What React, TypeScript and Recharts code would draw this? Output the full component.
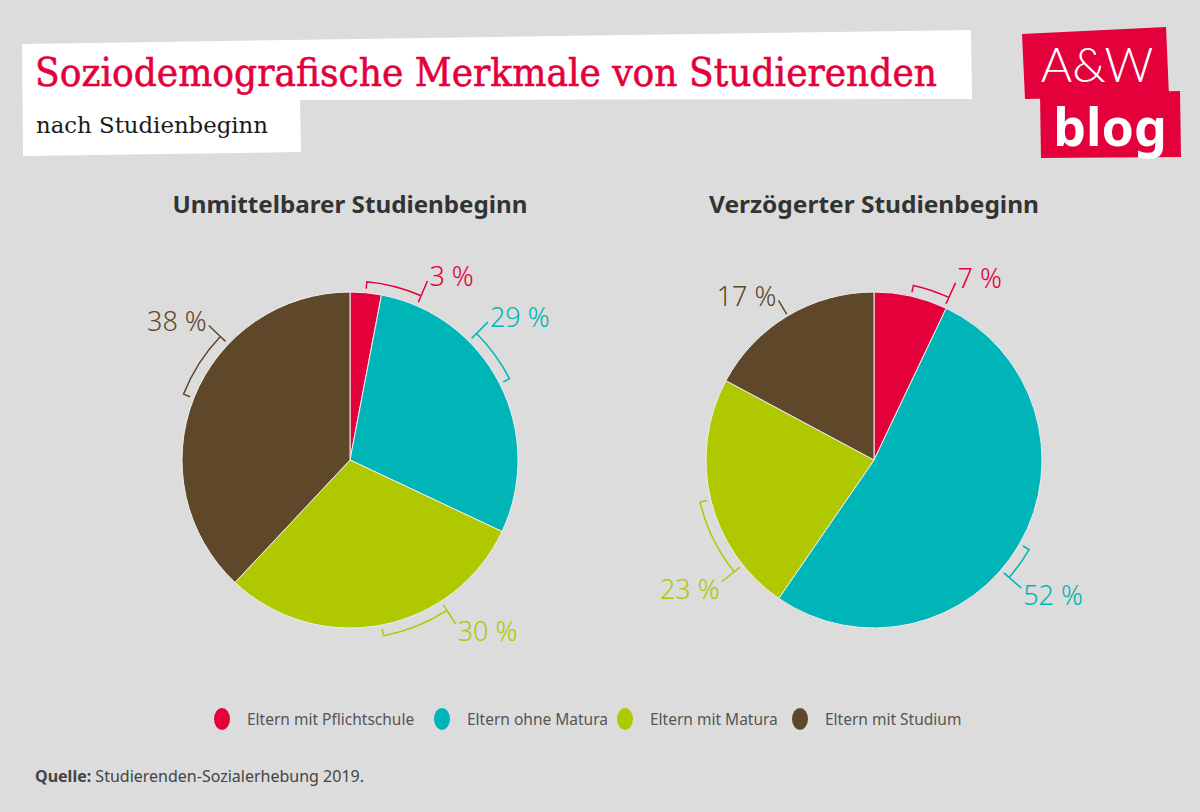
import { PieChart, Pie, Cell } from 'recharts';

const CATEGORIES = ['Eltern mit Pflichtschule', 'Eltern ohne Matura', 'Eltern mit Matura', 'Eltern mit Studium'];
const IMMEDIATE = [3, 29, 30, 38];
const DELAYED = [7, 52, 23, 17];
const CHART_TITLES = ['Unmittelbarer Studienbeginn', 'Verzögerter Studienbeginn'];

const COLORS = ['#e4003b', '#00b5b7', '#afc800', '#5f482a'];

// bracket direction from slice middle (1 = clockwise, -1 = counter, 0 = plain line) and its span in degrees
const BRACKETS_LEFT = [
  { dir: 1, span: 18 },
  { dir: -1, span: 18 },
  { dir: -1, span: 22 },
  { dir: 1, span: 22 },
];
const BRACKETS_RIGHT = [
  { dir: 1, span: 12 },
  { dir: 1, span: 11 },
  { dir: -1, span: 25 },
  { dir: 0, span: 0 },
];
const LEGEND_WIDTHS = [220, 183, 175, 180];

const immediateData = CATEGORIES.map((name, i) => ({ name, value: IMMEDIATE[i] }));
const delayedData = CATEGORIES.map((name, i) => ({ name, value: DELAYED[i] }));

const LABEL_FONT = '"Noto Sans", "DejaVu Sans", sans-serif';

const makeLabel = (cfg: { dir: number; span: number }[]) => (props: any) => {
  const { cx, cy, midAngle, outerRadius, index, value } = props;
  const color = COLORS[index];
  const { dir, span } = cfg[index];
  const pt = (deg: number, r: number) => {
    const t = (deg * Math.PI) / 180;
    return [cx + r * Math.sin(t), cy - r * Math.cos(t)];
  };
  const mid = 90 - midAngle;
  const r0 = outerRadius + 4;
  const r1 = outerRadius + 11;
  let path = '';
  let end: number[];
  let ang: number;
  if (dir === 0) {
    const a = pt(mid, outerRadius + 2);
    end = pt(mid, outerRadius + 18);
    ang = mid;
    path = `M${a[0]},${a[1]} L${end[0]},${end[1]}`;
  } else {
    const far = mid + dir * span;
    ang = far;
    const a0 = pt(mid, r0);
    const a1 = pt(mid, r1);
    const b1 = pt(far, r1);
    const b0 = pt(far, r0);
    end = pt(far, r1 + 16);
    const sweep = dir > 0 ? 1 : 0;
    path = `M${a0[0]},${a0[1]} L${a1[0]},${a1[1]} A${r1},${r1} 0 0 ${sweep} ${b1[0]},${b1[1]} L${b0[0]},${b0[1]} M${b1[0]},${b1[1]} L${end[0]},${end[1]}`;
  }
  const s = Math.sin((ang * Math.PI) / 180);
  const c = Math.cos((ang * Math.PI) / 180);
  const right = s >= 0;
  const ty = end[1] + (c < 0 ? 10 : -2);
  return (
    <g key={`lbl-${index}`}>
      <path d={path} stroke={color} strokeWidth={1.5} fill="none" />
      <text
        x={end[0] + (right ? 2 : -2)}
        y={ty}
        textAnchor={right ? 'start' : 'end'}
        dominantBaseline="middle"
        fill={color}
        fontFamily={LABEL_FONT}
        fontSize={27}
        fontWeight={300}
      >
        {`${value} %`}
      </text>
    </g>
  );
};

const App = () => {
  return (
    <div
      style={{
        position: 'absolute',
        left: 0,
        top: 0,
        width: 1200,
        height: 812,
        background: '#dcdcdc',
        overflow: 'hidden',
      }}
    >
      <svg width={1200} height={812} style={{ position: 'absolute', left: 0, top: 0 }}>
        <polygon points="22,44 971,30 972,99 300,100 301,152 23,156" fill="#ffffff" />
        <text
          x={35}
          y={86}
          fill="#e4003b"
          fontFamily='"DejaVu Serif", serif'
          fontSize={39}
          textLength={902}
          lengthAdjust="spacingAndGlyphs"
          stroke="#e4003b"
          strokeWidth={0.6}
        >
          Soziodemografische Merkmale von Studierenden
        </text>
        <text
          x={36}
          y={133}
          fill="#1a1a1a"
          fontFamily='"DejaVu Serif", serif'
          fontSize={22}
          textLength={232}
          lengthAdjust="spacingAndGlyphs"
        >
          nach Studienbeginn
        </text>

        <polygon points="1022,34 1166,27 1169,96 1025,99" fill="#e4003b" />
        <polygon points="1040,94 1180,91 1181,157 1041,158" fill="#e4003b" />
        <text
          x={1097}
          y={82}
          textAnchor="middle"
          fill="#ffffff"
          fontFamily='"Lato", "Noto Sans", sans-serif'
          fontSize={48}
          fontWeight={300}
        >
          A&amp;W
        </text>
        <text
          x={1110}
          y={146}
          textAnchor="middle"
          fill="#ffffff"
          fontFamily='"Noto Sans", sans-serif'
          fontSize={52}
          fontWeight={700}
        >
          blog
        </text>

        {CHART_TITLES.map((t, i) => (
          <text
            key={t}
            x={i === 0 ? 350 : 874}
            y={213}
            textAnchor="middle"
            fill="#333333"
            fontFamily='"Noto Sans", sans-serif'
            fontSize={24}
            fontWeight={700}
            textLength={i === 0 ? 355 : 330}
            lengthAdjust="spacingAndGlyphs"
          >
            {t}
          </text>
        ))}

        <text x={35} y={782} fill="#444444" fontFamily='"Noto Sans", sans-serif' fontSize={16}>
          <tspan fontWeight={700}>Quelle:</tspan>
          <tspan> Studierenden-Sozialerhebung 2019.</tspan>
        </text>
      </svg>

      <div style={{ position: 'absolute', left: 0, top: 0 }}>
        <PieChart width={1200} height={812} margin={{ top: 0, right: 0, bottom: 0, left: 0 }}>
          <Pie
            data={immediateData}
            dataKey="value"
            nameKey="name"
            cx={350}
            cy={460}
            outerRadius={168}
            startAngle={90}
            endAngle={-270}
            stroke="#eeeeee"
            strokeWidth={1}
            label={makeLabel(BRACKETS_LEFT)}
            labelLine={false}
            isAnimationActive={false}
          >
            {immediateData.map((_, i) => (
              <Cell key={`a-${i}`} fill={COLORS[i]} />
            ))}
          </Pie>
          <Pie
            data={delayedData}
            dataKey="value"
            nameKey="name"
            cx={874}
            cy={460}
            outerRadius={168}
            startAngle={90}
            endAngle={-270}
            stroke="#eeeeee"
            strokeWidth={1}
            label={makeLabel(BRACKETS_RIGHT)}
            labelLine={false}
            isAnimationActive={false}
          >
            {delayedData.map((_, i) => (
              <Cell key={`b-${i}`} fill={COLORS[i]} />
            ))}
          </Pie>
        </PieChart>
      </div>

      <div
        style={{
          position: 'absolute',
          left: 214,
          top: 708,
          display: 'flex',
          alignItems: 'center',
          fontFamily: '"Noto Sans", sans-serif',
          fontSize: 15.5,
          color: '#555555',
        }}
      >
        {CATEGORIES.map((c, i) => (
          <div key={c} style={{ display: 'flex', alignItems: 'center', width: LEGEND_WIDTHS[i] }}>
            <span
              style={{
                display: 'inline-block',
                width: 16,
                height: 22,
                borderRadius: '50%',
                background: COLORS[i],
                marginRight: 17,
              }}
            />
            <span>{c}</span>
          </div>
        ))}
      </div>
    </div>
  );
};

export default App;
